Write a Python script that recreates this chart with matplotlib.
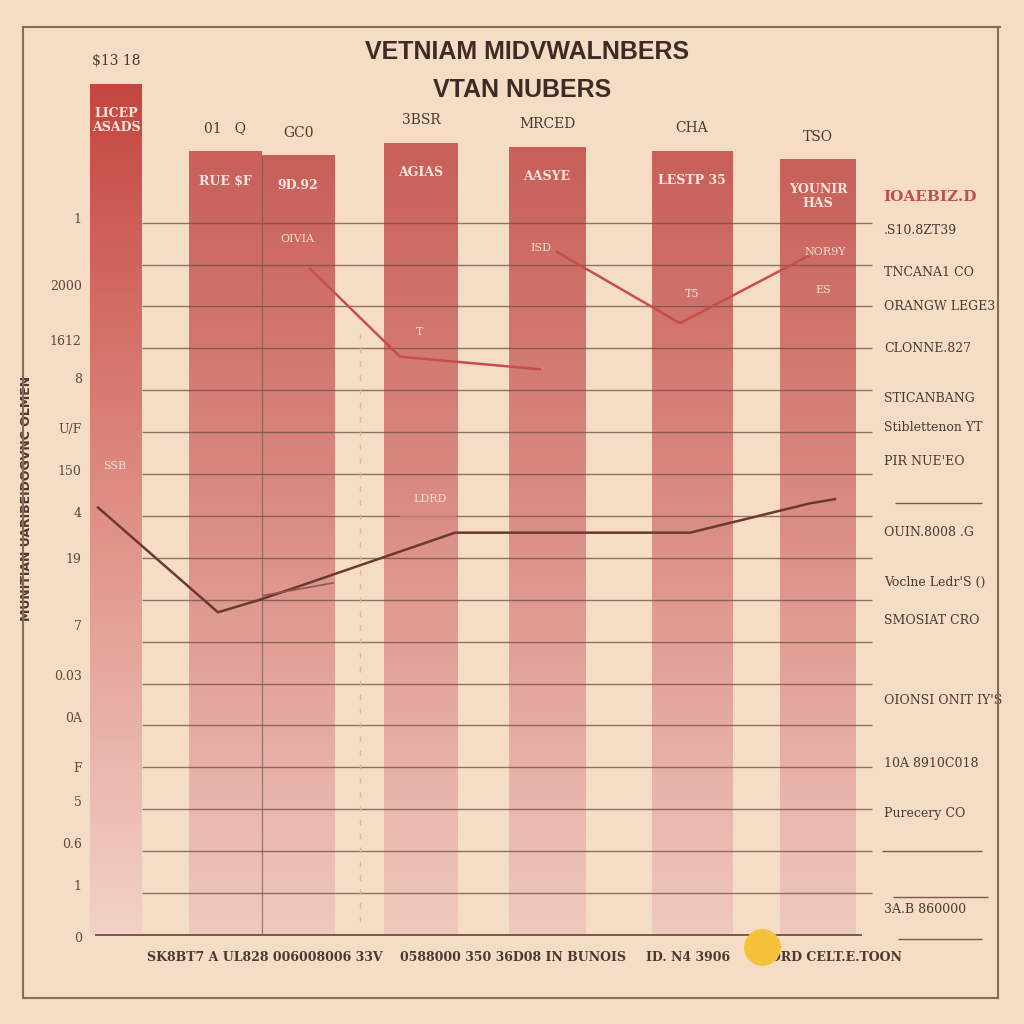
import numpy as np
import matplotlib
matplotlib.use("Agg")
import matplotlib.pyplot as plt
from matplotlib.colors import LinearSegmentedColormap
from matplotlib.lines import Line2D

# ---- data ----
bar_heights = [20.3, 18.7, 18.6, 18.9, 18.8, 18.7, 18.5]
bar_top_labels = ["$13 18", "01   Q", "GC0", "3BSR", "MRCED", "CHA", "TSO"]
bar_inner_labels = ["LICEP\nASADS", "RUE $F", "9D.92", "AGIAS", "AASYE", "LESTP 35", "YOUNIR\nHAS"]

red_a_x = [310, 400, 540]
red_a_y = [15.9, 13.8, 13.5]
red_b_x = [557, 680, 808]
red_b_y = [16.3, 14.6, 16.2]
dark_x = [98, 218, 260, 455, 690, 810, 835]
dark_y = [10.2, 7.7, 8.0, 9.6, 9.6, 10.3, 10.4]
light_x = [263, 333]
light_y = [8.1, 8.4]

ytick_pos = [17.1, 15.5, 14.2, 13.3, 12.1, 11.1, 10.1, 9.0, 7.4, 6.2, 5.2, 4.0, 3.2, 2.2, 1.2, -0.05]
ytick_labels = ["1", "2000", "1612", "8", "U/F", "150", "4", "19", "7", "0.03", "0A", "F", "5", "0.6", "1", "0"]

right_labels = [".S10.8ZT39", "TNCANA1 CO", "ORANGW LEGE3", "CLONNE.827", "STICANBANG",
                "Stiblettenon YT", "PIR NUE'EO", "OUIN.8008 .G", "Voclne Ledr'S ()",
                "SMOSIAT CRO", "OIONSI ONIT IY'S", "10A 8910C018", "Purecery CO", "3A.B 860000"]
right_label_y = [16.8, 15.8, 15.0, 14.0, 12.8, 12.1, 11.3, 9.6, 8.4, 7.5, 5.6, 4.1, 2.9, 0.6]

bottom_labels = ["SK8BT7 A UL828 006008006 33V", "0588000 350 36D08 IN BUNOIS",
                 "ID. N4 3906", "FORD CELT.E.TOON"]

# ---- layout ----
bar_x = [116, 225, 298, 421, 547, 692, 818]
bar_w = [52, 73, 73, 74, 77, 81, 76]
bottom_label_x = [265, 513, 688, 831]

bg = "#f5dcc4"
ink = "#4a3a32"

fig = plt.figure(figsize=(10.24, 10.24), dpi=100)
fig.patch.set_facecolor(bg)
ax = fig.add_axes([90 / 1024, 1 - 937 / 1024, (1000 - 90) / 1024, (937 - 60) / 1024])
ax.set_facecolor(bg)
for s in ax.spines.values():
    s.set_visible(False)

grad = np.linspace(0, 1, 256).reshape(-1, 1)
cm_first = LinearSegmentedColormap.from_list("b1", ["#f2d2c6", "#df8f86", "#c4463f"])
cm_rest = LinearSegmentedColormap.from_list("b2", ["#f0c9bd", "#dc9088", "#c85f59"])

bars = ax.bar(bar_x, bar_heights, width=bar_w, color="none", zorder=2)
for i, b in enumerate(bars):
    x0 = b.get_x()
    ax.imshow(grad, cmap=cm_first if i == 0 else cm_rest, origin="lower", aspect="auto",
              extent=(x0, x0 + b.get_width(), 0, b.get_height()), zorder=1)

# grid
for k in range(1, 18):
    ax.hlines(k, 142, 872, color="#6e5044", lw=1, alpha=0.75, zorder=3)
ax.hlines(0, 95, 862, color="#6e5044", lw=1.3, zorder=3)
ax.vlines(262, 0, 18.6, color="#7a5a4c", lw=0.9, alpha=0.7, zorder=3)
ax.vlines(360, 0.3, 14.5, color="#d8b8a4", lw=1, ls=(0, (4, 6)), zorder=3)
for yy, xa, xb in [(10.3, 895, 982), (2.0, 882, 982), (0.9, 893, 988), (-0.1, 898, 982)]:
    ax.hlines(yy, xa, xb, color="#7a5a4c", lw=1, clip_on=False, zorder=3)

# lines
ax.plot(red_a_x, red_a_y, color="#c64f48", lw=1.8, zorder=4)
ax.plot(red_b_x, red_b_y, color="#c64f48", lw=1.8, zorder=4)
ax.plot(dark_x, dark_y, color="#6a3a30", lw=1.8, zorder=4)
ax.plot(light_x, light_y, color="#8a5a50", lw=1.2, zorder=4)
ax.plot([400, 455], [10.0, 10.0], color="#c08078", lw=1, zorder=4)

# bar texts
for b, top, inner in zip(bars, bar_top_labels, bar_inner_labels):
    cx = b.get_x() + b.get_width() / 2
    h = b.get_height()
    ax.text(cx, h + 0.55, top, ha="center", va="center", fontsize=10,
            family="DejaVu Serif", color=ink, zorder=5)
    ax.text(cx, h - 0.55, inner, ha="center", va="top", fontsize=9,
            family="DejaVu Serif", color="#fbe6de", fontweight="bold", zorder=5,
            linespacing=1.1)
for x, y, t in [(297, 16.6, "OIVIA"), (541, 16.4, "ISD"), (420, 14.4, "T"), (692, 15.3, "T5"),
                (823, 15.4, "ES"), (825, 16.3, "NOR9Y"), (430, 10.4, "LDRD"), (115, 11.2, "SSB")]:
    ax.text(x, y, t, ha="center", va="center", fontsize=8, family="DejaVu Serif",
            color="#f6ddd4", zorder=5)

# right side labels
ax.text(883, 17.6, "IOAEBIZ.D", fontsize=11, color="#c0504a", fontweight="bold",
        family="DejaVu Serif", va="center", clip_on=False)
for t, y in zip(right_labels, right_label_y):
    ax.text(884, y, t, fontsize=9, color=ink, family="DejaVu Serif", va="center", clip_on=False)

# bottom labels
for x, t in zip(bottom_label_x, bottom_labels):
    ax.text(x, -0.55, t, ha="center", va="center", fontsize=9, color=ink,
            family="DejaVu Serif", fontweight="bold", clip_on=False)
ax.scatter([762], [-0.3], s=650, color="#f6c23a", zorder=6, clip_on=False)

ax.set_xlim(90, 1000)
ax.set_ylim(0, (937 - 60) / 42)
ax.set_xticks([])
ax.set_yticks(ytick_pos)
ax.set_yticklabels(ytick_labels, family="DejaVu Serif", fontsize=9, color="#5a4a40")
ax.tick_params(axis="y", length=0, pad=6)
ax.set_ylabel("MUNITIAN UARIBEIDOGVNC OLMEN", fontsize=9, color=ink, fontweight="bold",
              labelpad=12)

# title
fig.text(527 / 1024, 1 - 52 / 1024, "VETNIAM MIDVWALNBERS", ha="center", va="center",
         fontsize=18, color="#3d2b25", family="Liberation Sans", fontweight="bold")
fig.text(522 / 1024, 1 - 90 / 1024, "VTAN NUBERS", ha="center", va="center",
         fontsize=18, color="#3d2b25", family="Liberation Sans", fontweight="bold")

# frame
fc = "#8a6a55"
for xs, ys in [([23, 1000], [27, 27]), ([23, 23], [27, 998]), ([998, 998], [27, 998]),
               ([23, 998], [998, 998])]:
    fig.add_artist(Line2D([x / 1024 for x in xs], [1 - y / 1024 for y in ys], color=fc, lw=1.5))

fig.savefig("out.png", dpi=100, facecolor=bg)
